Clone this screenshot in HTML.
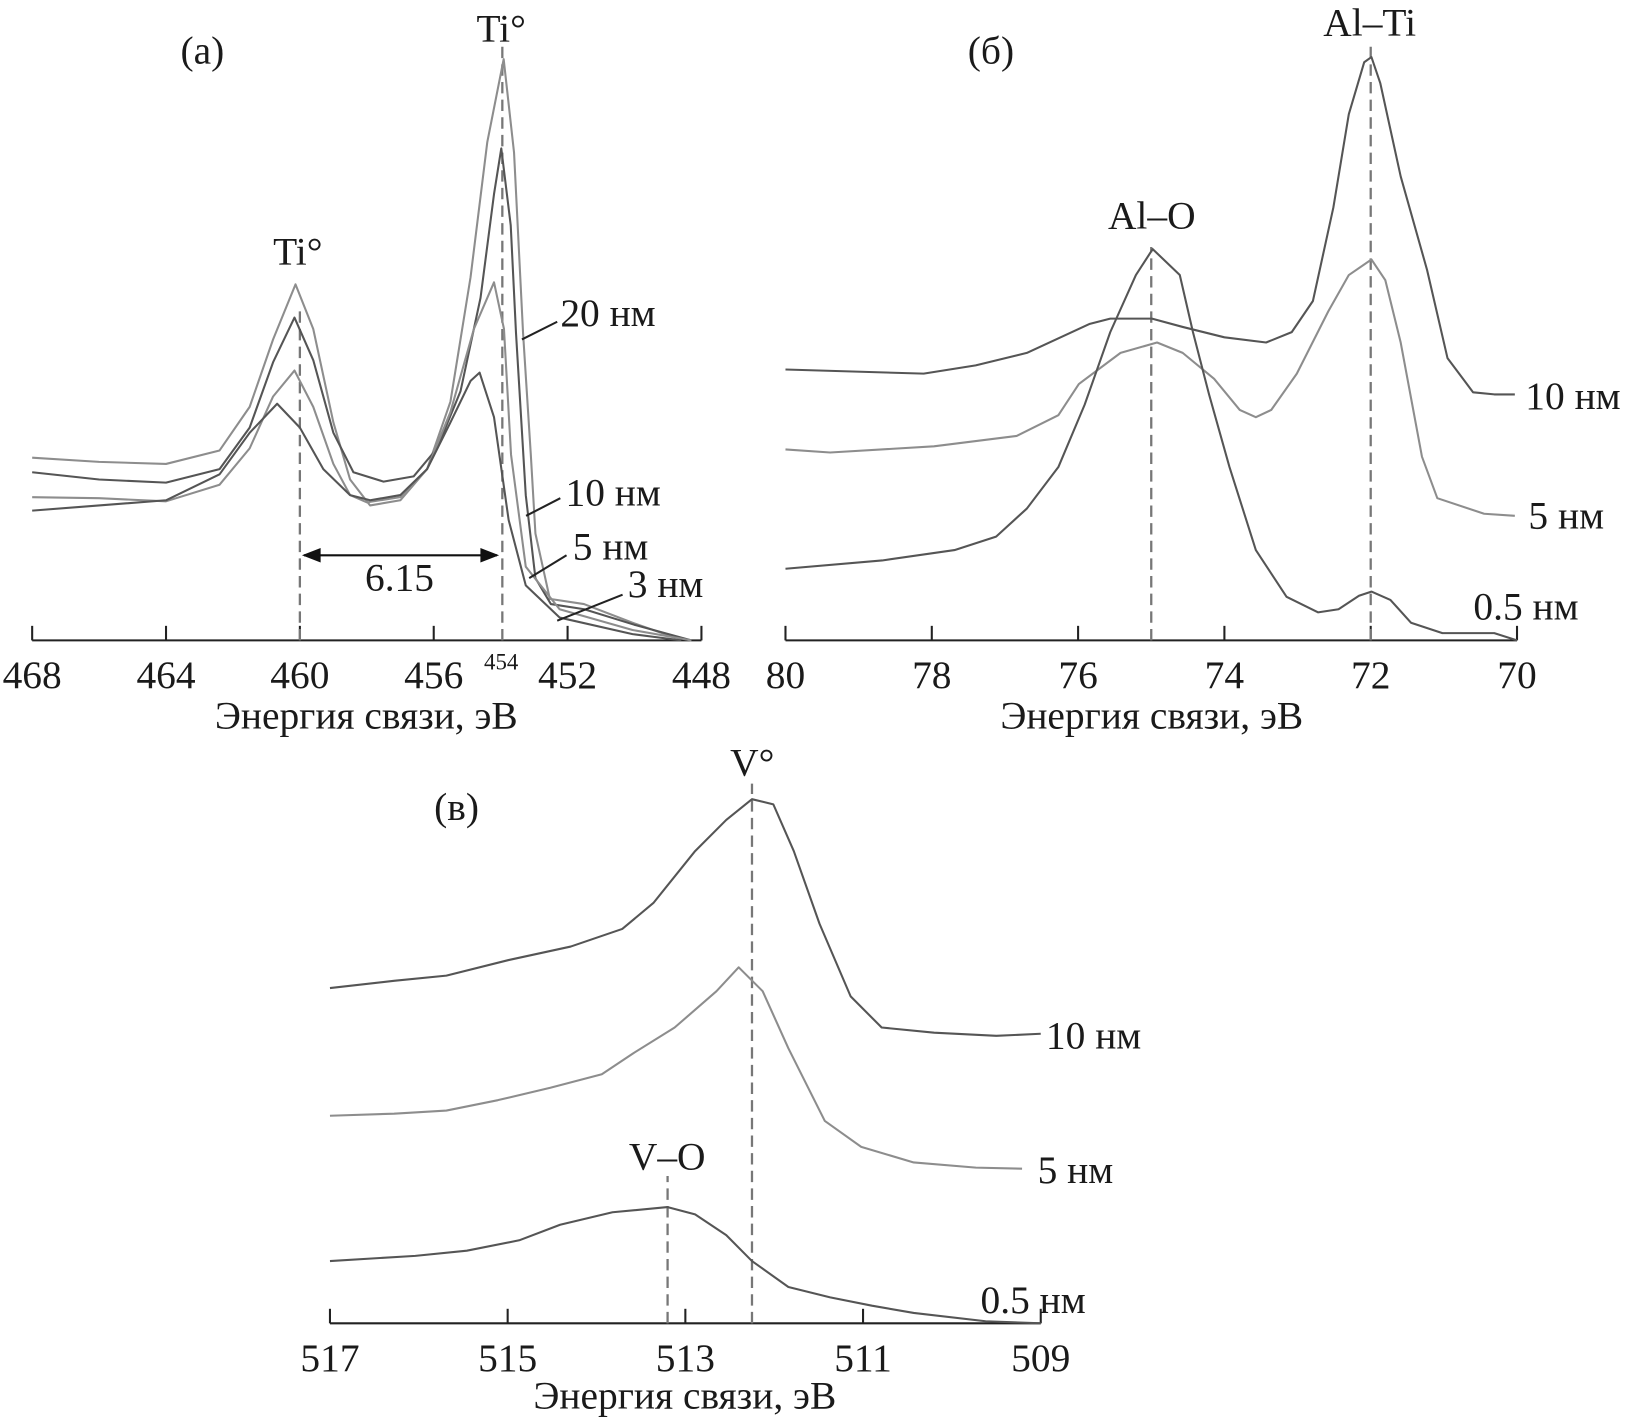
<!DOCTYPE html>
<html><head><meta charset="utf-8"><style>
html,body{margin:0;padding:0;background:#fff}
svg{display:block}
text{font-family:"Liberation Serif",serif;fill:#1a1a1a}
</style></head><body>
<svg id="chart" width="1627" height="1424" viewBox="0 0 1568 1372" preserveAspectRatio="none" xmlns="http://www.w3.org/2000/svg"></svg>
<script>
// Panel (a) Ti 2p
const aTicks = [468,464,460,456,452,448];
const a20 = [[468,176],[466,172],[464,170],[462.4,183],[461.5,225],[460.8,290],[460.13,343],[459.6,300],[459.0,210],[458.5,155],[457.9,130],[457.0,135],[456.2,165],[455.5,230],[454.9,350],[454.4,480],[453.91,560],[453.6,470],[453.33,296],[453.1,180],[452.96,103],[452.53,40],[451.51,35],[450.06,17],[449,5],[448.3,0]];
const a10 = [[468,162],[466,155],[464,152],[462.4,165],[461.5,205],[460.8,268],[460.16,311],[459.6,270],[459.0,200],[458.4,162],[457.5,153],[456.6,158],[455.9,185],[455.2,240],[454.6,330],[454.2,430],[453.98,474],[453.7,400],[453.54,296],[453.25,140],[452.96,60],[452.5,35],[451.5,30],[450,15],[448.3,0]];
const a5 = [[468,138],[466,137],[464,134],[462.4,150],[461.5,185],[460.8,235],[460.16,260],[459.6,225],[459.0,170],[458.5,140],[458.0,133],[457.0,138],[456.2,165],[455.5,220],[454.8,300],[454.2,345],[453.9,300],[453.69,179],[453.25,71],[452.24,30],[450.06,10],[448.3,0]];
const a3 = [[468,125],[466,130],[464,135],[462.4,160],[461.5,200],[460.68,228],[460.0,205],[459.3,165],[458.5,140],[457.9,135],[457.0,140],[456.2,165],[455.5,210],[454.9,250],[454.63,258],[454.2,215],[453.76,116],[453.25,53],[452.24,22],[450.06,6],[448.6,0]];
// Panel (б) Al 2p
const bTicks = [80,78,76,74,72,70];
const b10 = [[80,261],[78.11,257],[77.40,265],[76.70,277],[75.84,305],[75.56,310],[74.99,310],[74.57,302],[74.0,292],[73.43,287],[73.08,297],[72.79,327],[72.51,417],[72.30,507],[72.09,557],[71.99,562],[71.87,537],[71.59,447],[71.23,357],[70.95,272],[70.60,239],[70.31,237],[70.03,237]];
const b5 = [[80,184],[79.39,181],[77.97,187],[76.84,197],[76.27,217],[75.99,247],[75.42,277],[74.92,287],[74.57,277],[74.14,252],[73.79,222],[73.57,215],[73.36,222],[73.01,257],[72.58,317],[72.30,352],[71.99,367],[71.80,347],[71.59,287],[71.30,177],[71.09,137],[70.45,122],[70.03,120]];
const b05 = [[80,69],[78.68,77],[77.69,87],[77.12,100],[76.70,127],[76.27,167],[75.91,227],[75.56,297],[75.21,352],[74.98,377],[74.61,352],[74.43,297],[74.21,237],[73.93,167],[73.57,87],[73.15,42],[72.72,27],[72.44,30],[72.16,43],[71.99,47],[71.73,39],[71.45,17],[71.02,7],[70.31,7],[70,0]];
// Panel (в) V 2p
const cTicks = [517,515,513,511,509];
const c10 = [[517,323],[516.28,330],[515.69,335],[514.99,350],[514.29,363],[513.71,380],[513.36,405],[512.89,455],[512.54,485],[512.25,505],[512.01,500],[511.78,455],[511.49,385],[511.14,315],[510.79,285],[510.20,280],[509.50,277],[509.0,279]];
const c5 = [[517,200],[516.28,202],[515.69,205],[515.11,215],[514.52,227],[513.94,240],[513.59,260],[513.12,285],[512.65,320],[512.40,343],[512.13,320],[511.84,265],[511.43,195],[511.02,170],[510.43,155],[509.73,150],[509.21,149]];
const c05 = [[517,60],[516.04,65],[515.46,70],[514.87,80],[514.41,95],[513.82,107],[513.20,112],[512.89,105],[512.54,85],[512.25,60],[511.84,35],[511.37,25],[510.90,17],[510.43,10],[509.62,2],[509,0]];

const NS="http://www.w3.org/2000/svg";
const svg=document.getElementById('chart');
const FS=38;
function mk(tag,attrs,parent){const e=document.createElementNS(NS,tag);for(const k in attrs)e.setAttribute(k,attrs[k]);(parent||svg).appendChild(e);return e;}
function txt(x,y,s,size,name,anchor){const t=mk('text',{x:x,y:y,'font-size':size,'text-anchor':anchor||'middle'});t.textContent=s;


return t;}
function axisFn(e0,e1,x0,x1){return e=>x0+(e-e0)/(e1-e0)*(x1-x0);}

function panel(id,ticks,x0,x1,ay,series,dashes){
  const g=mk('g',{});
  
  
  const X=axisFn(ticks[0],ticks[ticks.length-1],x0,x1);
  const Y=v=>ay-v;
  const ax=mk('line',{x1:x0,y1:ay,x2:x1,y2:ay,stroke:'#222','stroke-width':2},g);
  
  
  ticks.forEach(t=>{
    const tk=mk('line',{x1:X(t),y1:ay,x2:X(t),y2:ay-14,stroke:'#222','stroke-width':2},g);
    
    
    const lb=txt(X(t),ay+46,String(t),FS,'x-tick-label-'+id);
    g.appendChild(lb);
  });
  dashes.forEach(d=>{
    const l=mk('line',{x1:X(d[0]),y1:ay,x2:X(d[0]),y2:d[1],stroke:'#777','stroke-width':2.2,'stroke-dasharray':'11,6'},g);
    
    
  });
  series.forEach(s=>{
    const p=mk('path',{d:s.data.map((pt,i)=>(i?'L':'M')+X(pt[0]).toFixed(1)+','+Y(pt[1]).toFixed(1)).join(''),fill:'none',stroke:s.c,'stroke-width':2,'stroke-linejoin':'round'},g);
    
    
  });
  return X;
}
const dark='#555', light='#8d8d8d';
panel('a',aTicks,31,676,617,[{data:a20,c:light,n:'20nm'},{data:a10,c:dark,n:'10nm'},{data:a5,c:light,n:'5nm'},{data:a3,c:dark,n:'3nm'}],[[460,300],[453.95,42]]);
panel('b',bTicks,757,1462,617,[{data:b10,c:dark,n:'10nm'},{data:b5,c:light,n:'5nm'},{data:b05,c:dark,n:'0.5nm'}],[[75,238],[72,45]]);
panel('c',cTicks,318,1003,1275,[{data:c10,c:dark,n:'10nm'},{data:c5,c:light,n:'5nm'},{data:c05,c:dark,n:'0.5nm'}],[[512.25,755],[513.2,1133]]);

// labels panel a
txt(195,61,'(а)',FS,'panel-label-a');
txt(483,40,'Ti°',FS,'peak-label-ti-top');
txt(287,255,'Ti°',FS,'peak-label-ti-left');
txt(540,314,'20 нм',FS,'series-label-20nm','start');
txt(545,487,'10 нм',FS,'series-label-10nm','start');
txt(552,539,'5 нм',FS,'series-label-5nm','start');
txt(605,575,'3 нм',FS,'series-label-3nm','start');
[[503,327,537,310],[507,497,540,480],[510,557,546,535],[537,598,600,573]].forEach(l=>{
  const e=mk('line',{x1:l[0],y1:l[1],x2:l[2],y2:l[3],stroke:'#222','stroke-width':2});
  
  
});
const arr=mk('line',{x1:293,y1:535,x2:479,y2:535,stroke:'#111','stroke-width':2});


const ah1=mk('path',{d:'M291,535 L309,528 L309,542 Z',fill:'#111'});


const ah2=mk('path',{d:'M481,535 L463,528 L463,542 Z',fill:'#111'});


txt(385,569,'6.15',FS,'splitting-value');
txt(483,645,'454',22,'peak-position-454');
txt(353,702,'Энергия связи, эВ',FS,'x-axis-title-a');
// panel b
txt(955,61,'(б)',FS,'panel-label-b');
txt(1320,34,'Al–Ti',FS,'peak-label-al-ti');
txt(1110,220,'Al–O',FS,'peak-label-al-o');
txt(1470,394,'10 нм',FS,'series-label-b-10nm','start');
txt(1473,509,'5 нм',FS,'series-label-b-5nm','start');
txt(1420,597,'0.5 нм',FS,'series-label-b-05nm','start');
txt(1110,702,'Энергия связи, эВ',FS,'x-axis-title-b');
// panel c
txt(440,790,'(в)',FS,'panel-label-c');
txt(725,747,'V°',FS,'peak-label-v');
txt(643,1127,'V–O',FS,'peak-label-v-o');
txt(1008,1010,'10 нм',FS,'series-label-c-10nm','start');
txt(1000,1140,'5 нм',FS,'series-label-c-5nm','start');
txt(945,1265,'0.5 нм',FS,'series-label-c-05nm','start');
txt(660,1357,'Энергия связи, эВ',FS,'x-axis-title-c');
</script>
</body></html>
